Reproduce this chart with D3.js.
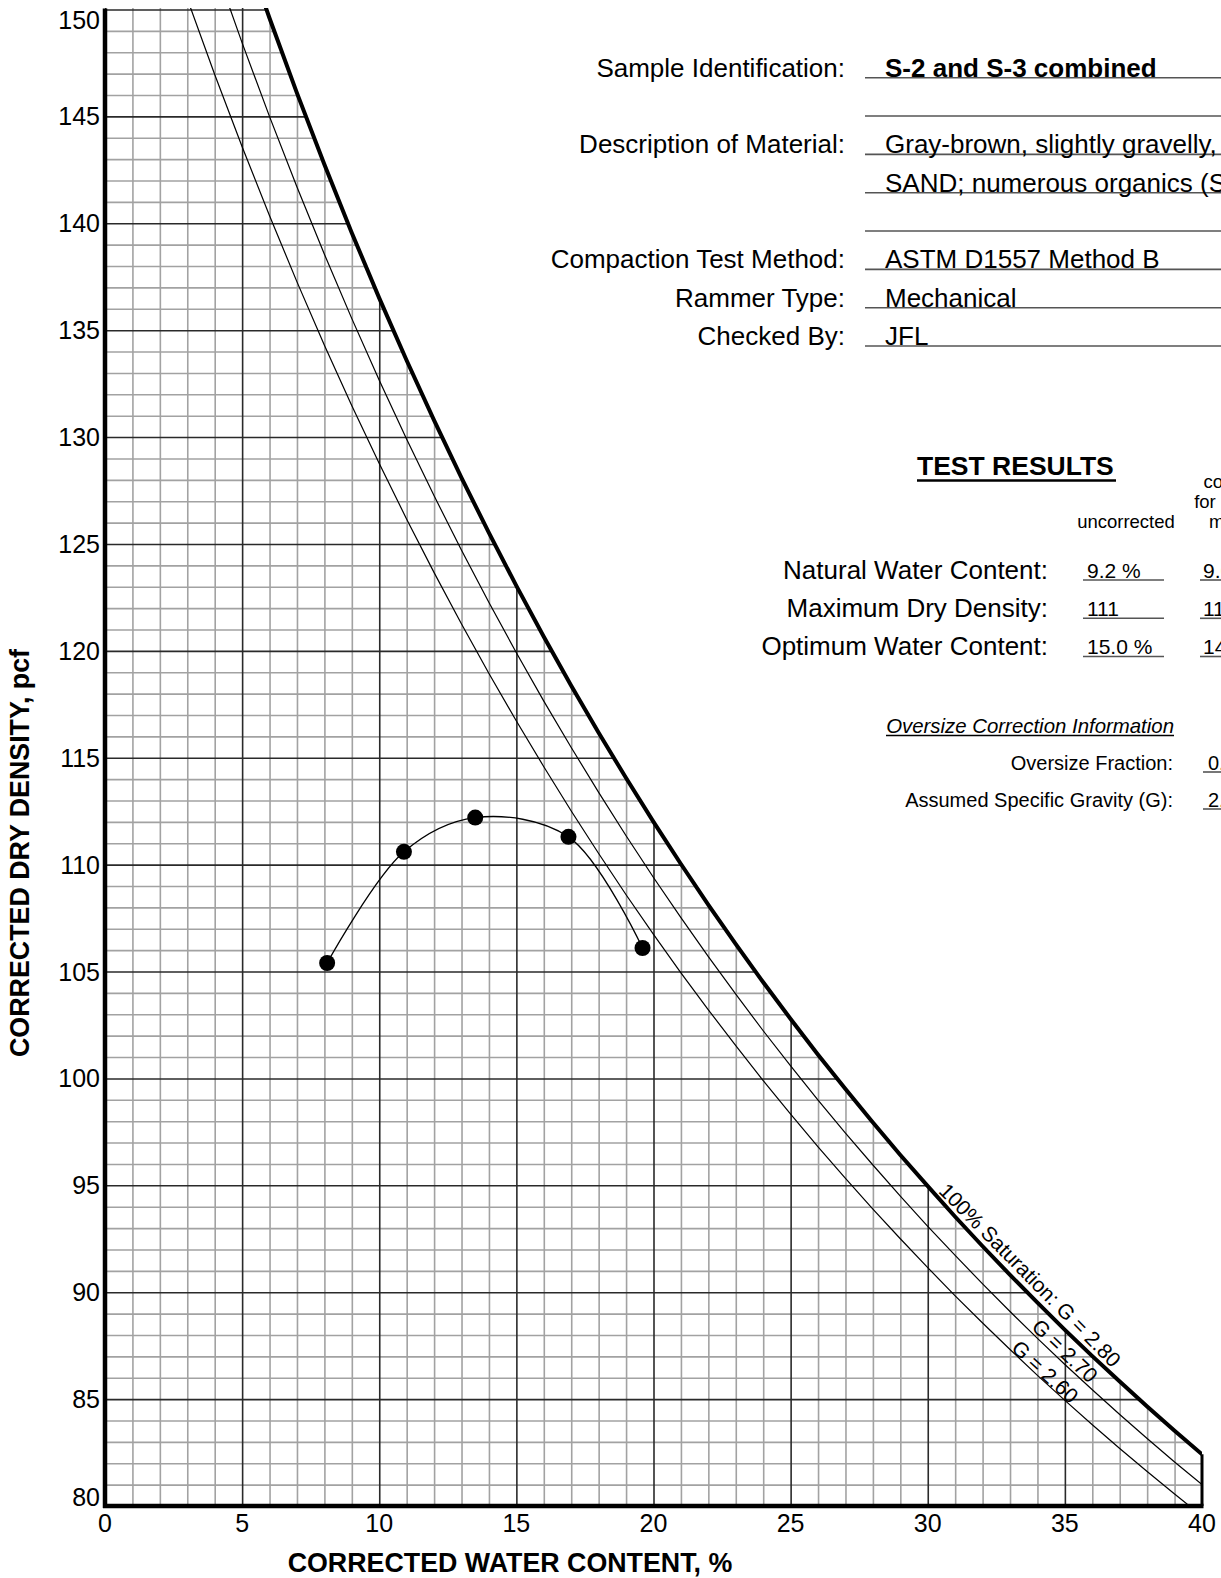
<!DOCTYPE html>
<html>
<head>
<meta charset="utf-8">
<script src="https://cdn.jsdelivr.net/npm/d3@7"></script>
<style>
  html, body { margin: 0; padding: 0; background: #fff; }
  svg { display: block; font-family: "Liberation Sans", Arial, Helvetica, sans-serif; }
</style>
</head>
<body>
<svg id="chart" width="1221" height="1578"></svg>
<script>
// ---- Compaction test points: corrected water content (%) vs corrected dry density (pcf)
const waterContent = [8.1, 10.9, 13.5, 16.9, 19.6];
const dryDensity   = [105.4, 110.6, 112.2, 111.3, 106.1];

// ---- 100% saturation (zero-air-voids) lines, dry density (pcf) at each water content (%)
const zavWater = [3, 4, 5, 6, 7, 8, 9, 10, 11, 12, 13, 14, 15, 16, 17, 18, 19, 20, 21, 22,
                  23, 24, 25, 26, 27, 28, 29, 30, 31, 32, 33, 34, 35, 36, 37, 38, 39, 40];
const zavG280 = [161.18, 157.12, 153.26, 149.59, 146.09, 142.75, 139.55, 136.50, 133.58, 130.78,
                 128.09, 125.52, 123.04, 120.66, 118.37, 116.17, 114.05, 112.00, 110.03, 108.12,
                 106.28, 104.50, 102.78, 101.11, 99.50, 97.94, 96.42, 94.96, 93.53, 92.15,
                 90.81, 89.51, 88.24, 87.01, 85.82, 84.65, 83.52, 82.42];
const zavG270 = [155.86, 152.06, 148.44, 144.99, 141.70, 138.55, 135.54, 132.66, 129.90, 127.25,
                 124.71, 122.26, 119.91, 117.65, 115.48, 113.38, 111.35, 109.40, 107.52, 105.70,
                 103.94, 102.23, 100.59, 98.99, 97.44, 95.95, 94.49, 93.08, 91.72, 90.39,
                 89.10, 87.84, 86.62, 85.44, 84.28, 83.16, 82.06, 81.00];
const zavG260 = [150.50, 146.96, 143.58, 140.35, 137.26, 134.30, 131.47, 128.76, 126.16, 123.66,
                 121.26, 118.94, 116.72, 114.58, 112.51, 110.52, 108.59, 106.74, 104.94, 103.21,
                 101.53, 99.90, 98.33, 96.80, 95.32, 93.89, 92.50, 91.15, 89.83, 88.56,
                 87.32, 86.11, 84.94, 83.80, 82.69, 81.61, 80.56, 79.53];

// ---- Axis ticks
const xTickLabels = [0, 5, 10, 15, 20, 25, 30, 35, 40];
const yTickLabels = [80, 85, 90, 95, 100, 105, 110, 115, 120, 125, 130, 135, 140, 145, 150];

// ---- Sample information block
const infoLabels = ["Sample Identification:", "", "Description of Material:", "", "",
                    "Compaction Test Method:", "Rammer Type:", "Checked By:"];
const infoValues = ["S-2 and S-3 combined", "", "Gray-brown, slightly gravelly, silty",
                    "SAND; numerous organics (SM)", "", "ASTM D1557 Method B", "Mechanical", "JFL"];

// ---- Test results
const resultLabels      = ["Natural Water Content:", "Maximum Dry Density:", "Optimum Water Content:"];
const resultUncorrected = ["9.2 %", "111", "15.0 %"];
const resultCorrected   = ["9.0 %", "112", "14.8 %"];
const oversizeLabels    = ["Oversize Fraction:", "Assumed Specific Gravity (G):"];
const oversizeValues    = ["0.0 %", "2.65"];

// ---- Saturation line captions
const zavCaptions = [
  { text: "100% Saturation: G = 2.80", w: 33.73, d: 90.8, series: zavG280 },
  { text: "G = 2.70", w: 35.0, d: 87.26, series: zavG270 },
  { text: "G = 2.60", w: 34.28, d: 86.28, series: zavG260 }
];

const svg = d3.select("#chart");
const x = d3.scaleLinear().domain([0, 40]).range([105, 1202]);
const y = d3.scaleLinear().domain([80, 150]).range([1506, 9.5]);
const [x0, x1] = x.range();
const [y0, y1] = y.range();

const defs = svg.append("defs");
defs.append("clipPath").attr("id", "plotRect")
  .append("rect").attr("x", x0).attr("y", y1 - 1.5).attr("width", x1 - x0).attr("height", y0 - y1 + 1.5);

// region under the G = 2.80 saturation line
const zav280Pts = zavWater.map((w, i) => [w, zavG280[i]]);
const areaPts = [[0, 80], [0, zavG280[0]]].concat(zav280Pts).concat([[40, 80]]);
defs.append("clipPath").attr("id", "underZav")
  .append("path")
  .attr("d", d3.line().x(p => x(p[0])).y(p => y(p[1]))(areaPts) + "Z");

// ---- Grid: minor lines every 1 unit, major lines every 5 units
const gridOuter = svg.append("g").attr("clip-path", "url(#underZav)");
const grid = gridOuter.append("g").attr("clip-path", "url(#plotRect)");

function gridLayer(xs, ys, color, width) {
  const g = grid.append("g");
  g.append("g").attr("transform", `translate(0,${y0})`)
    .call(d3.axisBottom(x).tickValues(xs).tickSize(-(y0 - y1 + 2)).tickFormat(""));
  g.append("g").attr("transform", `translate(${x0},0)`)
    .call(d3.axisLeft(y).tickValues(ys).tickSize(-(x1 - x0)).tickFormat(""));
  g.selectAll(".domain").remove();
  g.selectAll(".tick line").attr("stroke", color).attr("stroke-width", width);
}
gridLayer(d3.range(0, 41, 1).filter(v => v % 5 !== 0), d3.range(80, 151, 1).filter(v => v % 5 !== 0),
          "#a2a2a2", 1.6);
gridLayer(d3.range(0, 41, 5), d3.range(80, 151, 5), "#2a2a2a", 1.6);

// ---- Saturation lines
const plotLines = svg.append("g").attr("clip-path", "url(#plotRect)");
function seriesPath(series) {
  return d3.line().x((d, i) => x(zavWater[i])).y(d => y(d))(series);
}
plotLines.append("path").attr("d", seriesPath(zavG260))
  .attr("fill", "none").attr("stroke", "#000").attr("stroke-width", 1.2);
plotLines.append("path").attr("d", seriesPath(zavG270))
  .attr("fill", "none").attr("stroke", "#000").attr("stroke-width", 1.2);
plotLines.append("path").attr("d", seriesPath(zavG280))
  .attr("fill", "none").attr("stroke", "#000").attr("stroke-width", 4)
  .attr("stroke-linejoin", "round");

// right edge below the saturation line at 40 %
svg.append("line")
  .attr("x1", x(40)).attr("x2", x(40))
  .attr("y1", y(zavG280[zavG280.length - 1])).attr("y2", y(80))
  .attr("stroke", "#000").attr("stroke-width", 3);

// axes frame
svg.append("line").attr("x1", x0).attr("x2", x0).attr("y1", y1 - 1).attr("y2", y0 + 2)
  .attr("stroke", "#000").attr("stroke-width", 4.5);
svg.append("line").attr("x1", x0 - 2).attr("x2", x1 + 1.5).attr("y1", y0).attr("y2", y0)
  .attr("stroke", "#000").attr("stroke-width", 4.5);

// ---- Tick labels
svg.append("g").selectAll("text").data(yTickLabels).join("text")
  .attr("x", x0 - 5)
  .attr("y", d => Math.min(Math.max(y(d) + 9, 28.5), y0))
  .attr("text-anchor", "end").attr("font-size", 25).attr("fill", "#000")
  .text(d => d);
svg.append("g").selectAll("text").data(xTickLabels).join("text")
  .attr("x", d => x(d)).attr("y", 1531.5)
  .attr("text-anchor", "middle").attr("font-size", 25).attr("fill", "#000")
  .text(d => d);

// ---- Axis titles
svg.append("text").attr("x", 510).attr("y", 1572)
  .attr("text-anchor", "middle").attr("font-size", 26.8).attr("font-weight", "bold")
  .text("CORRECTED WATER CONTENT, %");
svg.append("text").attr("transform", "translate(28.5,853) rotate(-90)")
  .attr("text-anchor", "middle").attr("font-size", 26.8).attr("font-weight", "bold")
  .text("CORRECTED DRY DENSITY, pcf");

// ---- Compaction curve and points
const pts = waterContent.map((w, i) => [w, dryDensity[i]]);
svg.append("path")
  .attr("d", d3.line().x(p => x(p[0])).y(p => y(p[1])).curve(d3.curveCatmullRom.alpha(0.5))(pts))
  .attr("fill", "none").attr("stroke", "#000").attr("stroke-width", 1.3);
svg.append("g").selectAll("circle").data(pts).join("circle")
  .attr("cx", p => x(p[0])).attr("cy", p => y(p[1])).attr("r", 8).attr("fill", "#000");

// ---- Saturation captions, rotated along their lines
zavCaptions.forEach(c => {
  const i = d3.bisectLeft(zavWater, c.w);
  const dx = x(zavWater[i]) - x(zavWater[i - 1]);
  const dy = y(c.series[i]) - y(c.series[i - 1]);
  const ang = Math.atan2(dy, dx) * 180 / Math.PI;
  svg.append("text")
    .attr("transform", `translate(${x(c.w)},${y(c.d)}) rotate(${ang})`)
    .attr("text-anchor", "middle").attr("dy", "0.35em")
    .attr("font-size", 21).attr("fill", "#000")
    .text(c.text);
});

// ---- Sample information block
const info = svg.append("g");
const rowY = i => 76.7 + i * 38.33;
infoLabels.forEach((t, i) => {
  info.append("line").attr("x1", 865).attr("x2", 1230)
    .attr("y1", rowY(i) + 1).attr("y2", rowY(i) + 1)
    .attr("stroke", "#555").attr("stroke-width", 1.6);
  if (t) info.append("text").attr("x", 845).attr("y", rowY(i))
    .attr("text-anchor", "end").attr("font-size", 26).text(t);
  if (infoValues[i]) info.append("text").attr("x", 885).attr("y", rowY(i))
    .attr("font-size", 26).attr("font-weight", i === 0 ? "bold" : "normal")
    .text(infoValues[i]);
});

// ---- Test results block
const res = svg.append("g");
res.append("text").attr("x", 917).attr("y", 475).attr("font-size", 26.5).attr("font-weight", "bold")
  .text("TEST RESULTS");
res.append("line").attr("x1", 917).attr("x2", 1116).attr("y1", 480.5).attr("y2", 480.5)
  .attr("stroke", "#000").attr("stroke-width", 2.5);
res.append("text").attr("x", 1126).attr("y", 528).attr("text-anchor", "middle")
  .attr("font-size", 18.5).text("uncorrected");
["corrected", "for oversize", "material"].forEach((t, i) => {
  res.append("text").attr("x", 1242).attr("y", 488 + i * 20).attr("text-anchor", "middle")
    .attr("font-size", 18.5).text(t);
});
const resY = [578.5, 616.8, 655];
resultLabels.forEach((t, i) => {
  res.append("text").attr("x", 1048).attr("y", resY[i]).attr("text-anchor", "end")
    .attr("font-size", 26).text(t);
  res.append("text").attr("x", 1087).attr("y", resY[i] - 1).attr("font-size", 21)
    .text(resultUncorrected[i]);
  res.append("line").attr("x1", 1083).attr("x2", 1164).attr("y1", resY[i] + 1.5).attr("y2", resY[i] + 1.5)
    .attr("stroke", "#555").attr("stroke-width", 1.6);
  res.append("text").attr("x", 1203).attr("y", resY[i] - 1).attr("font-size", 21)
    .text(resultCorrected[i]);
  res.append("line").attr("x1", 1200).attr("x2", 1230).attr("y1", resY[i] + 1.5).attr("y2", resY[i] + 1.5)
    .attr("stroke", "#555").attr("stroke-width", 1.6);
});
res.append("text").attr("x", 1174).attr("y", 733).attr("text-anchor", "end")
  .attr("font-size", 20.4).attr("font-style", "italic").text("Oversize Correction Information");
res.append("line").attr("x1", 886).attr("x2", 1174).attr("y1", 735.5).attr("y2", 735.5)
  .attr("stroke", "#000").attr("stroke-width", 1.5);
const ovY = [770, 807];
oversizeLabels.forEach((t, i) => {
  res.append("text").attr("x", 1173).attr("y", ovY[i]).attr("text-anchor", "end")
    .attr("font-size", 20).text(t);
  res.append("text").attr("x", 1208).attr("y", ovY[i]).attr("font-size", 20).text(oversizeValues[i]);
  res.append("line").attr("x1", 1203).attr("x2", 1230).attr("y1", ovY[i] + 2).attr("y2", ovY[i] + 2)
    .attr("stroke", "#555").attr("stroke-width", 1.6);
});
</script>
</body>
</html>
